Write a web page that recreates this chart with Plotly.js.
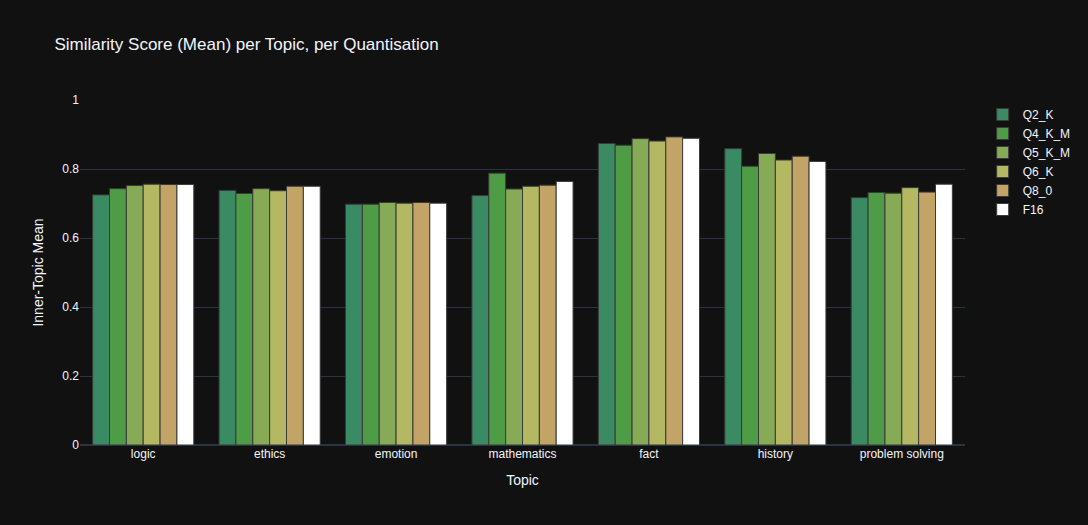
<!DOCTYPE html>
<html>
<head>
<meta charset="utf-8">
<script src="https://cdn.plot.ly/plotly-3.0.1.min.js"></script>
<style>
  html, body { margin: 0; padding: 0; background: #111111; }
  #chart { width: 1088px; height: 525px; }
</style>
</head>
<body>
<div id="chart"></div>
<script>
// Topics on the x axis
const topics = ["logic", "ethics", "emotion", "mathematics", "fact", "history", "problem solving"];

// Mean inner-topic similarity per quantisation level
const q2_k   = [0.725, 0.738, 0.698, 0.723, 0.874, 0.859, 0.717];
const q4_k_m = [0.743, 0.729, 0.698, 0.788, 0.869, 0.808, 0.732];
const q5_k_m = [0.752, 0.743, 0.703, 0.742, 0.888, 0.845, 0.730];
const q6_k   = [0.756, 0.737, 0.701, 0.750, 0.881, 0.826, 0.746];
const q8_0   = [0.755, 0.750, 0.703, 0.753, 0.893, 0.837, 0.733];
const f16    = [0.755, 0.750, 0.701, 0.764, 0.889, 0.822, 0.756];

const seriesNames = ["Q2_K", "Q4_K_M", "Q5_K_M", "Q6_K", "Q8_0", "F16"];
const seriesValues = [q2_k, q4_k_m, q5_k_m, q6_k, q8_0, f16];
const seriesColors = ["#3a8a63", "#4f9c47", "#86aa55", "#b4b862", "#c2a467", "#ffffff"];

const traces = seriesNames.map((name, i) => ({
  type: "bar",
  name: name,
  x: topics,
  y: seriesValues[i],
  marker: {
    color: seriesColors[i],
    line: { color: "#3a3a3a", width: 1 }
  }
}));

const layout = {
  width: 1088,
  height: 525,
  paper_bgcolor: "#111111",
  plot_bgcolor: "#111111",
  font: { family: "Liberation Sans, Arial, sans-serif", color: "#f2f5fa", size: 12 },
  title: {
    text: "Similarity Score (Mean) per Topic, per Quantisation",
    font: { size: 17, color: "#f2f5fa" },
    x: 0.05
  },
  margin: { l: 80, r: 123, t: 100, b: 80 },
  barmode: "group",
  bargap: 0.2,
  xaxis: {
    title: { text: "Topic", font: { size: 14 }, standoff: 15 },
    automargin: true,
    showgrid: false,
    ticks: ""
  },
  yaxis: {
    title: { text: "Inner-Topic Mean", font: { size: 14 }, standoff: 15 },
    automargin: true,
    range: [0, 1],
    dtick: 0.2,
    gridcolor: "#283442",
    gridwidth: 1,
    zerolinecolor: "#283442",
    zerolinewidth: 2,
    ticks: ""
  },
  legend: {
    font: { size: 12 },
    bgcolor: "rgba(0,0,0,0)"
  }
};

Plotly.newPlot("chart", traces, layout, { displayModeBar: false, responsive: false });
</script>
</body>
</html>
